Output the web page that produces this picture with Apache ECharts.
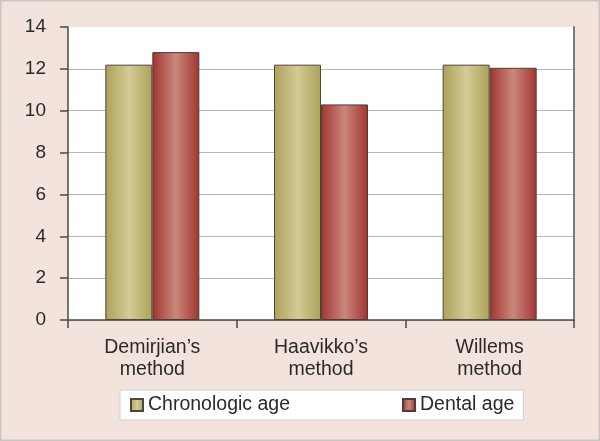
<!DOCTYPE html>
<html>
<head>
<meta charset="utf-8">
<script src="https://cdn.jsdelivr.net/npm/echarts@6/dist/echarts.min.js"></script>
<style>
html,body{margin:0;padding:0;background:#f3e3dd;}
#chart{width:600px;height:441px;}
</style>
</head>
<body>
<div id="chart"></div>
<script>
var categories = ["Demirjian\u2019s\nmethod", "Haavikko\u2019s\nmethod", "Willems\nmethod"];
var chronologicAge = [12.2, 12.2, 12.2];
var dentalAge = [12.8, 10.3, 12.05];
var seriesNames = ["Chronologic age", "Dental age"];

function grad(edge, mid) {
  return new echarts.graphic.LinearGradient(0, 0, 1, 0, [
    {offset: 0, color: edge},
    {offset: 0.5, color: mid},
    {offset: 1, color: edge}
  ]);
}

var chart = echarts.init(document.getElementById('chart'), null, {renderer: 'canvas'});
var font = '"Liberation Sans", Arial, sans-serif';
chart.setOption({
  animation: false,
  backgroundColor: '#f3e3dd',
  textStyle: {fontFamily: font},
  graphic: [{
    type: 'rect',
    shape: {x: 0.5, y: 0.5, width: 599, height: 440},
    style: {fill: 'none', stroke: '#c9c6c4', lineWidth: 2},
    silent: true, z: -1
  }, {
    type: 'rect',
    shape: {x: 68, y: 27, width: 506, height: 293},
    style: {fill: '#ffffff'},
    silent: true, z: -1
  }],
  grid: {left: 68, right: 26, top: 27, bottom: 121, containLabel: false},
  legend: {
    data: seriesNames,
    left: 120,
    top: 390,
    icon: 'rect',
    itemWidth: 12,
    itemHeight: 12,
    itemGap: 112,
    padding: [5, 9, 5, 10],
    backgroundColor: '#ffffff',
    borderColor: '#d0d0d0',
    borderWidth: 1,
    textStyle: {fontSize: 19.5, color: '#2a2a2a', fontFamily: font}
  },
  xAxis: {
    type: 'category',
    data: categories,
    axisLine: {lineStyle: {color: '#4a4a4a', width: 1.5}},
    axisTick: {show: true, length: 8, alignWithLabel: false, lineStyle: {color: '#4a4a4a', width: 1.5}},
    axisLabel: {fontSize: 19.5, color: '#2a2a2a', lineHeight: 22, margin: 17, fontFamily: font},
    splitLine: {show: false}
  },
  yAxis: [{
    type: 'value',
    min: 0, max: 14, interval: 2,
    axisLine: {show: true, lineStyle: {color: '#4a4a4a', width: 1.5}},
    axisTick: {show: true, length: 8, lineStyle: {color: '#4a4a4a', width: 1.5}},
    axisLabel: {fontSize: 19, color: '#2a2a2a', margin: 22, fontFamily: font},
    splitLine: {show: true, showMaxLine: false, lineStyle: {color: '#b8b8b8', width: 1}}
  }, {
    type: 'value',
    position: 'right',
    min: 0, max: 14, interval: 2,
    axisLine: {show: true, lineStyle: {color: '#7a7a7a', width: 2}},
    axisTick: {show: false},
    axisLabel: {show: false},
    splitLine: {show: false}
  }],
  series: [{
    name: seriesNames[0],
    type: 'bar',
    data: chronologicAge,
    barWidth: 47,
    barGap: '0%',
    itemStyle: {color: grad('#aca25a', '#d3ca96'), borderColor: '#4d463c', borderWidth: 1}
  }, {
    name: seriesNames[1],
    type: 'bar',
    data: dentalAge,
    barWidth: 47,
    barGap: '0%',
    itemStyle: {color: grad('#a1352f', '#ca877d'), borderColor: '#4d3c38', borderWidth: 1}
  }]
});
</script>
</body>
</html>
